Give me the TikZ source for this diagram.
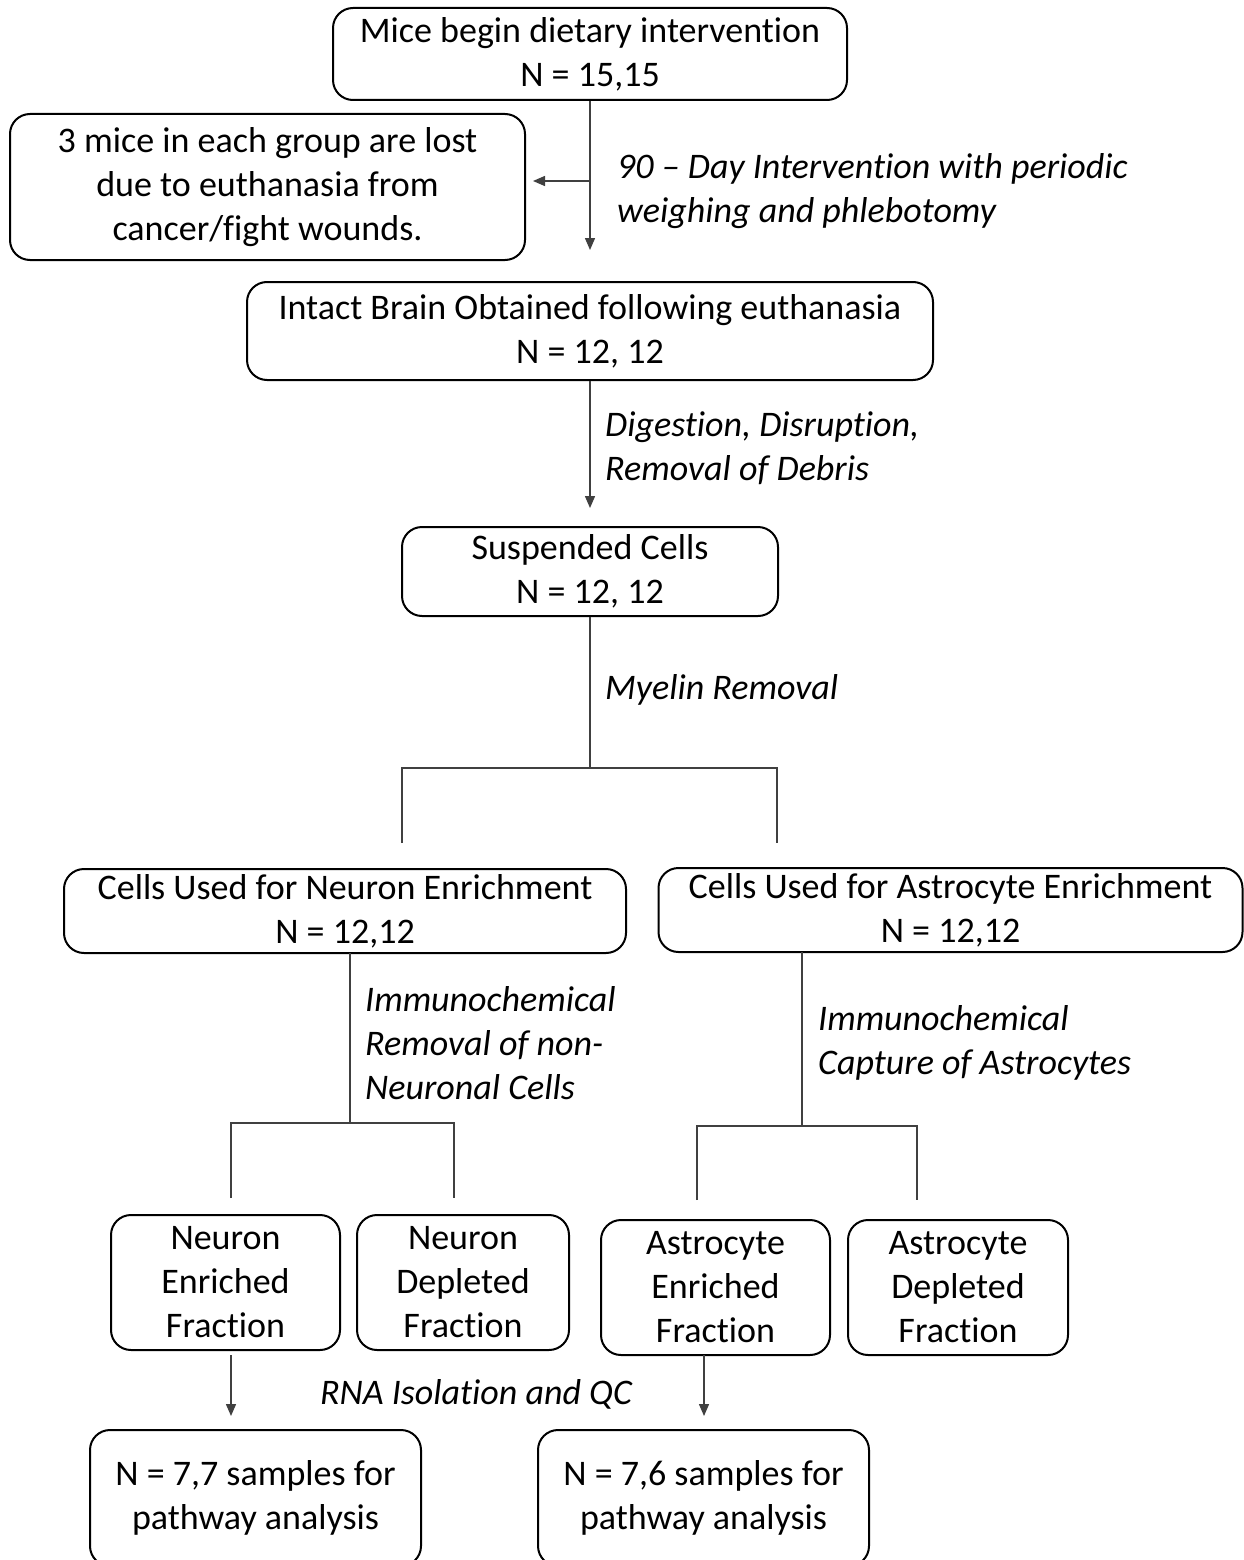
\documentclass[tikz,border=0pt]{standalone}
\usepackage{fontspec}
\setmainfont{Carlito}[Ligatures=NoCommon]
\usetikzlibrary{arrows.meta}
\begin{document}
\begin{tikzpicture}[x=1pt,y=-1pt,
  box/.style={draw=black, rounded corners=20, line width=2, align=center, inner sep=0pt,
    font=\fontsize{36}{44}\selectfont},
  lbl/.style={anchor=west, align=left, inner sep=0pt, font=\fontsize{36}{44}\selectfont\itshape},
  conn/.style={draw=black!75, line width=1.4},
  arr/.style={conn, -{Triangle[width=10,length=12]}}]
\clip (0,0) rectangle (1244,1560);
\fill[white] (0,0) rectangle (1244,1560);
% boxes
\node[box, minimum width=514, minimum height=92] (mice) at (590,54) {Mice begin dietary intervention\\N = 15,15};
\node[box, minimum width=515, minimum height=146] (lost) at (267.5,187) {3 mice in each group are lost\\due to euthanasia from\\cancer/fight wounds.};
\node[box, minimum width=686, minimum height=98] (brain) at (590,331) {Intact Brain Obtained following euthanasia\\N = 12, 12};
\node[box, minimum width=376, minimum height=89] (cells) at (590,571.5) {Suspended Cells\\N = 12, 12};
\node[box, minimum width=562, minimum height=84] (neu) at (345,911) {Cells Used for Neuron Enrichment\\N = 12,12};
\node[box, minimum width=584, minimum height=84] (ast) at (950.5,910) {Cells Used for Astrocyte Enrichment\\N = 12,12};
\node[box, minimum width=229, minimum height=135] (nef) at (225.5,1282.5) {Neuron\\Enriched\\Fraction};
\node[box, minimum width=212, minimum height=135] (ndf) at (463,1282.5) {Neuron\\Depleted\\Fraction};
\node[box, minimum width=229, minimum height=135] (aef) at (715.5,1287.5) {Astrocyte\\Enriched\\Fraction};
\node[box, minimum width=220, minimum height=135] (adf) at (958,1287.5) {Astrocyte\\Depleted\\Fraction};
\node[box, minimum width=331, minimum height=136] (n77) at (255.5,1498) {N = 7,7 samples for\\pathway analysis};
\node[box, minimum width=331, minimum height=136] (n76) at (703.5,1498) {N = 7,6 samples for\\pathway analysis};
% labels
\node[lbl] (l1) at (617,191) {90 -- Day Intervention with periodic\\weighing and phlebotomy};
\node[lbl] (l2) at (605,448) {Digestion, Disruption,\\Removal of Debris};
\node[lbl] (l3) at (605,690) {Myelin Removal};
\node[lbl] (l4) at (365,1043) {Immunochemical\\Removal of non-\\Neuronal Cells};
\node[lbl] (l5) at (818,1043) {Immunochemical\\Capture of Astrocytes};
\node[lbl, anchor=center] (l6) at (476,1394) {RNA Isolation and QC};
% coordinates
\coordinate (a1) at (590,250);
\coordinate (b1) at (590,181);
\coordinate (a2) at (590,508);
\coordinate (c1) at (590,768);
\coordinate (cl) at (402,843);
\coordinate (cr) at (777,843);
\coordinate (n0) at (350,953);
\coordinate (n1) at (350,1123);
\coordinate (nl) at (231,1198);
\coordinate (nr) at (454,1198);
\coordinate (s0) at (802,952);
\coordinate (s1) at (802,1126);
\coordinate (sl) at (697,1200);
\coordinate (sr) at (917,1200);
\coordinate (e1) at (231,1355);
\coordinate (e2) at (231,1416);
\coordinate (f1) at (704,1355);
\coordinate (f2) at (704,1416);
% connectors
\draw[arr] (mice.south) -- (a1);
\draw[arr, shorten >=7] (b1) -- (lost.east |- b1);
\draw[arr] (brain.south) -- (a2);
\draw[conn] (cells.south) -- (c1);
\draw[conn] (cl) -- (cl |- c1) -- (cr |- c1) -- (cr);
\draw[conn] (n0) -- (n1);
\draw[conn] (nl) -- (nl |- n1) -- (nr |- n1) -- (nr);
\draw[conn] (s0) -- (s1);
\draw[conn] (sl) -- (sl |- s1) -- (sr |- s1) -- (sr);
\draw[arr] (e1) -- (e2);
\draw[arr] (f1) -- (f2);
\end{tikzpicture}
\end{document}
